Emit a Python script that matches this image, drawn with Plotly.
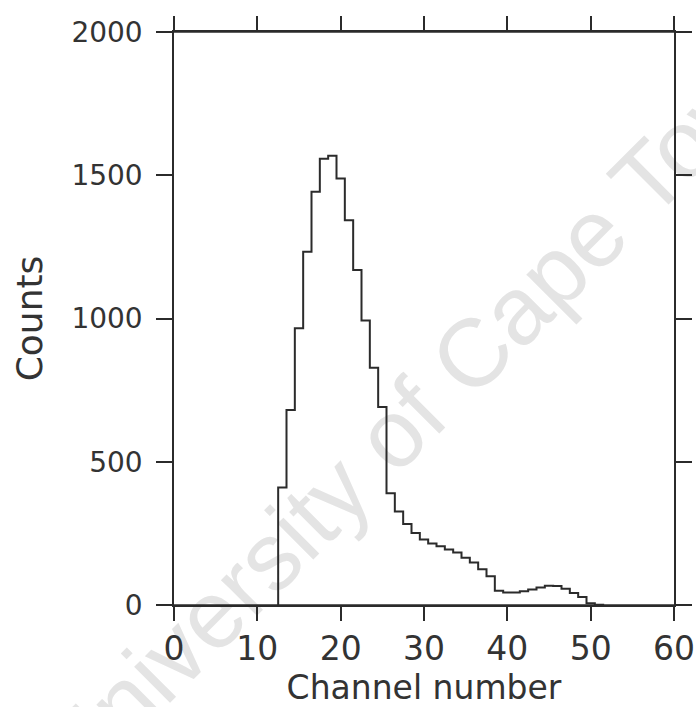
import plotly.graph_objects as go

# ---- data ----
channels = list(range(13, 52))
counts = [410, 681, 966, 1233, 1442, 1558, 1568, 1489, 1343, 1169,
          993, 828, 691, 390, 326, 283, 251, 229, 215, 205,
          194, 183, 165, 148, 125, 100, 50, 44, 44, 48,
          54, 61, 67, 66, 57, 42, 28, 6, 1]
x_ticks = [0, 10, 20, 30, 40, 50, 60]
y_ticks = [0, 500, 1000, 1500, 2000]
x_title = "Channel number"
y_title = "Counts"
watermark = "University of Cape Town"

# step-histogram outline built from bin edges (bins centred on channels)
edges = [c - 0.5 for c in channels] + [channels[-1] + 0.5]
xs = [edges[0]] + edges + [edges[-1]]
ys = [0] + counts + [counts[-1], 0]

ink = "#2b2b2b"
font_family = "DejaVu Sans, Liberation Sans, sans-serif"

fig = go.Figure()
fig.add_trace(go.Scatter(x=xs, y=ys, mode="lines", line=dict(color=ink, width=2, shape="hv"),
                         showlegend=False, hoverinfo="skip"))

fig.update_layout(
    width=696, height=707,
    margin=dict(l=174, r=22, t=32, b=102),
    paper_bgcolor="white", plot_bgcolor="rgba(0,0,0,0)",
    showlegend=False,
    xaxis=dict(range=[0, 60], tickvals=x_ticks, ticktext=[str(v) for v in x_ticks],
               automargin=False,
               showgrid=False, zeroline=False, showline=True, linecolor=ink, linewidth=1.5,
               mirror="ticks", ticks="outside", ticklen=14, tickwidth=1.5, tickcolor=ink,
               tickfont=dict(family=font_family, size=33, color="#333"),
               title=dict(text=x_title, font=dict(family=font_family, size=33, color="#333"), standoff=14)),
    yaxis=dict(range=[0, 2000], tickvals=y_ticks, ticktext=[str(v) for v in y_ticks],
               automargin=False,
               showgrid=False, zeroline=False, showline=True, linecolor=ink, linewidth=1.5,
               mirror="ticks", ticks="outside", ticklen=16, tickwidth=1.5, tickcolor=ink,
               ticklabelstandoff=8,
               tickfont=dict(family=font_family, size=28, color="#333"),
               title=dict(text=y_title, font=dict(family=font_family, size=36, color="#333"), standoff=18)),
    shapes=[
        dict(type="line", xref="paper", yref="paper", x0=-0.034, x1=1.034, y0=0, y1=0,
             line=dict(color=ink, width=1.5)),
        dict(type="line", xref="paper", yref="paper", x0=-0.03, x1=1.034, y0=1, y1=1,
             line=dict(color=ink, width=1.5)),
        dict(type="rect", xref="paper", yref="paper", x0=0.34, x1=0.62, y0=0.285, y1=0.435,
             line=dict(width=0), fillcolor="rgba(0,0,0,0)", layer="below",
             label=dict(text=watermark, textangle=-45, textposition="middle center",
                        font=dict(family="Liberation Sans, Arial, sans-serif", size=96, color="#e4e4e4"))),
    ],
)

fig.write_html("out.html")
